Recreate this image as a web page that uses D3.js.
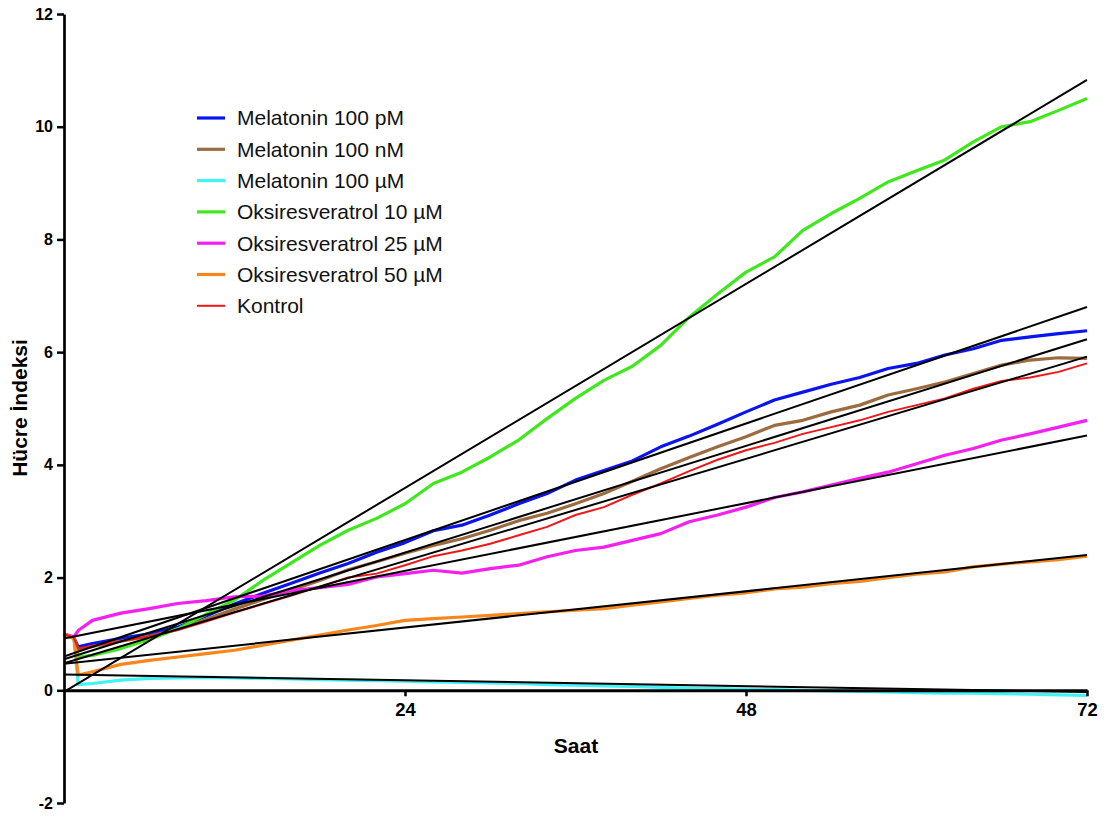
<!DOCTYPE html>
<html>
<head>
<meta charset="utf-8">
<script src="https://cdn.jsdelivr.net/npm/d3@7"></script>
<style>
    body { margin: 0; background: #fff; }
    #chart-area { width: 1106px; height: 818px; }
    .axis text { font-family: "Liberation Sans", Arial, sans-serif; font-weight: bold; fill: #000; }
    .axis path, .axis line { stroke: #000; }
    .axis-title { font-family: "Liberation Sans", Arial, sans-serif; font-weight: bold; font-size: 21px; fill: #000; }
    .legend text { font-family: "Liberation Sans", Arial, sans-serif; font-size: 21px; fill: #111; }
</style>
</head>
<body>
<div id="chart-area"></div>
<script>

// time (hours)
let hours = [0, 0.7, 1, 2, 4, 6, 8, 10, 12, 14, 16, 18, 20, 22, 24, 26, 28, 30, 32, 34, 36,
    38, 40, 42, 44, 46, 48, 50, 52, 54, 56, 58, 60, 62, 64, 66, 68, 70, 72];

// cell index values read per series
let melatonin100pM = [1.0, 0.93, 0.77, 0.83, 0.92, 1.0, 1.12, 1.32, 1.53, 1.72, 1.90, 2.08, 2.25, 2.45, 2.62, 2.83,
    2.93, 3.11, 3.31, 3.49, 3.73, 3.90, 4.07, 4.32, 4.51, 4.72, 4.94, 5.15, 5.29, 5.43, 5.55, 5.71, 5.80, 5.95,
    6.06, 6.21, 6.27, 6.33, 6.38];
let melatonin100nM = [1.0, 0.93, 0.72, 0.78, 0.87, 0.96, 1.08, 1.26, 1.44, 1.61, 1.78, 1.95, 2.14, 2.28, 2.43, 2.57,
    2.69, 2.84, 3.01, 3.14, 3.31, 3.49, 3.71, 3.93, 4.13, 4.32, 4.50, 4.70, 4.79, 4.94, 5.06, 5.24, 5.35, 5.47,
    5.62, 5.77, 5.86, 5.90, 5.89];
let melatonin100uM = [1.0, 0.92, 0.10, 0.12, 0.18, 0.21, 0.22, 0.23, 0.22, 0.21, 0.20, 0.19, 0.18, 0.17, 0.16, 0.15,
    0.14, 0.13, 0.12, 0.10, 0.09, 0.08, 0.07, 0.05, 0.04, 0.03, 0.02, 0.01, 0.0, -0.01, -0.02, -0.03, -0.04, -0.05,
    -0.05, -0.06, -0.07, -0.08, -0.09];
let oksi10uM = [1.0, 0.92, 0.59, 0.62, 0.74, 0.90, 1.09, 1.35, 1.60, 1.95, 2.26, 2.57, 2.84, 3.05, 3.31, 3.67,
    3.87, 4.14, 4.44, 4.82, 5.18, 5.50, 5.75, 6.12, 6.62, 7.03, 7.42, 7.69, 8.16, 8.46, 8.73, 9.02, 9.22, 9.41,
    9.73, 10.0, 10.09, 10.29, 10.50];
let oksi25uM = [1.0, 0.95, 1.06, 1.24, 1.37, 1.45, 1.54, 1.59, 1.66, 1.67, 1.77, 1.82, 1.88, 2.01, 2.07, 2.13,
    2.08, 2.16, 2.22, 2.37, 2.48, 2.54, 2.66, 2.78, 2.99, 3.11, 3.25, 3.42, 3.52, 3.64, 3.76, 3.87, 4.02, 4.17,
    4.29, 4.44, 4.55, 4.67, 4.79];
let oksi50uM = [1.0, 0.92, 0.27, 0.33, 0.46, 0.53, 0.59, 0.65, 0.71, 0.80, 0.89, 0.98, 1.07, 1.15, 1.24, 1.27,
    1.30, 1.33, 1.36, 1.39, 1.42, 1.45, 1.51, 1.57, 1.63, 1.69, 1.73, 1.80, 1.83, 1.89, 1.93, 2.00, 2.06, 2.10,
    2.19, 2.24, 2.28, 2.32, 2.38];
let kontrol = [1.0, 0.93, 0.74, 0.79, 0.87, 0.96, 1.07, 1.22, 1.38, 1.53, 1.68, 1.84, 2.00, 2.07, 2.22, 2.38,
    2.48, 2.60, 2.75, 2.90, 3.11, 3.25, 3.47, 3.67, 3.89, 4.09, 4.26, 4.39, 4.55, 4.67, 4.79, 4.94, 5.06, 5.18,
    5.35, 5.49, 5.55, 5.65, 5.80];

let seriesNames = ["Melatonin 100 pM", "Melatonin 100 nM", "Melatonin 100 µM", "Oksiresveratrol 10 µM",
    "Oksiresveratrol 25 µM", "Oksiresveratrol 50 µM", "Kontrol"];
let seriesValues = [melatonin100pM, melatonin100nM, melatonin100uM, oksi10uM, oksi25uM, oksi50uM, kontrol];

// linear fit lines (value at 0 h and at 72 h)
let fitStart = [0.60, 0.55, 0.28, -0.03, 0.92, 0.47, 0.48];
let fitEnd = [6.80, 6.23, -0.03, 10.83, 4.52, 2.40, 5.92];

let xTicks = [24, 48, 72];
let yTicks = [-2, 0, 2, 4, 6, 8, 10, 12];

// styles
let seriesColors = ["#0a14f0", "#9c6b3f", "#3ff3f6", "#3fe81c", "#f51ff0", "#f7861c", "#f21616"];
let seriesWidths = [3.2, 3.2, 3.2, 3.2, 3.2, 3.2, 2];


class HucreVis {

    constructor(parentElement) {
        this.parentElement = parentElement;
        this.initVis();
    }

    initVis() {
        let vis = this;

        vis.margin = {top: 14, right: 19, bottom: 15, left: 64};
        vis.width = 1106 - vis.margin.left - vis.margin.right;
        vis.height = 818 - vis.margin.top - vis.margin.bottom;

        vis.svg = d3.select("#" + vis.parentElement).append("svg")
            .attr("width", vis.width + vis.margin.left + vis.margin.right)
            .attr("height", vis.height + vis.margin.top + vis.margin.bottom)
            .append("g")
            .attr("transform", `translate(${vis.margin.left}, ${vis.margin.top})`);

        // Scales
        vis.x = d3.scaleLinear()
            .domain([0, 72])
            .range([0, vis.width]);

        vis.y = d3.scaleLinear()
            .domain([-2, 12])
            .range([vis.height, 0]);

        // plain hyphen for negatives, like the original
        vis.xAxis = d3.axisBottom(vis.x)
            .tickValues(xTicks)
            .tickFormat(d => String(d))
            .tickSize(6)
            .tickSizeOuter(0)
            .tickPadding(7);

        vis.yAxis = d3.axisLeft(vis.y)
            .tickValues(yTicks)
            .tickFormat(d => String(d))
            .tickSize(7)
            .tickSizeOuter(0)
            .tickPadding(4);

        vis.linesGroup = vis.svg.append("g").attr("class", "series");
        vis.fitGroup = vis.svg.append("g").attr("class", "fits");

        vis.xAxisGroup = vis.svg.append("g")
            .attr("class", "x-axis axis")
            .attr("transform", "translate(0," + vis.y(0) + ")");

        vis.yAxisGroup = vis.svg.append("g")
            .attr("class", "y-axis axis");

        // axis titles
        vis.svg.append("text")
            .attr("class", "axis-title")
            .attr("text-anchor", "middle")
            .attr("transform", `translate(${20 - vis.margin.left}, ${408 - vis.margin.top}) rotate(-90)`)
            .attr("dy", "0.35em")
            .text("Hücre İndeksi");

        vis.svg.append("text")
            .attr("class", "axis-title")
            .attr("text-anchor", "middle")
            .attr("x", 576 - vis.margin.left)
            .attr("y", 753 - vis.margin.top)
            .text("Saat");

        vis.wrangleData();
    }

    wrangleData() {
        let vis = this;

        vis.displayData = seriesNames.map((name, i) => ({
            name: name,
            color: seriesColors[i],
            width: seriesWidths[i],
            values: hours.map((h, j) => ({hour: h, value: seriesValues[i][j]})),
            fit: [{hour: 0, value: fitStart[i]}, {hour: 72, value: fitEnd[i]}]
        }));

        vis.updateVis();
    }

    updateVis() {
        let vis = this;

        let line = d3.line()
            .x(d => vis.x(d.hour))
            .y(d => vis.y(d.value));

        vis.linesGroup.selectAll("path")
            .data(vis.displayData)
            .enter()
            .append("path")
            .attr("fill", "none")
            .attr("stroke", d => d.color)
            .attr("stroke-width", d => d.width)
            .attr("stroke-linejoin", "round")
            .attr("d", d => line(d.values));

        // regression lines on top
        vis.fitGroup.selectAll("path")
            .data(vis.displayData)
            .enter()
            .append("path")
            .attr("fill", "none")
            .attr("stroke", "#000")
            .attr("stroke-width", 2)
            .attr("d", d => line(d.fit));

        vis.xAxisGroup.call(vis.xAxis);
        vis.yAxisGroup.call(vis.yAxis);

        vis.xAxisGroup.select(".domain").attr("stroke-width", 3);
        vis.xAxisGroup.selectAll(".tick line").attr("stroke-width", 2.5);
        vis.xAxisGroup.selectAll("text").style("font-size", "18.5px");

        vis.yAxisGroup.select(".domain").attr("stroke-width", 2.7);
        vis.yAxisGroup.selectAll(".tick line").attr("stroke-width", 2.5);
        vis.yAxisGroup.selectAll("text").style("font-size", "16px");

        // Legend
        let legend = vis.svg.append("g")
            .attr("class", "legend")
            .attr("transform", `translate(${197 - vis.margin.left}, ${118 - vis.margin.top})`);

        let rows = legend.selectAll("g")
            .data(vis.displayData)
            .enter()
            .append("g")
            .attr("transform", (d, i) => `translate(0, ${i * 31.3})`);

        rows.append("line")
            .attr("x1", 0)
            .attr("x2", 28)
            .attr("stroke", d => d.color)
            .attr("stroke-width", d => d.width);

        rows.append("text")
            .attr("x", 40)
            .attr("dy", "0.35em")
            .text(d => d.name);
    }
}

let myHucreVis = new HucreVis("chart-area");

</script>
</body>
</html>
